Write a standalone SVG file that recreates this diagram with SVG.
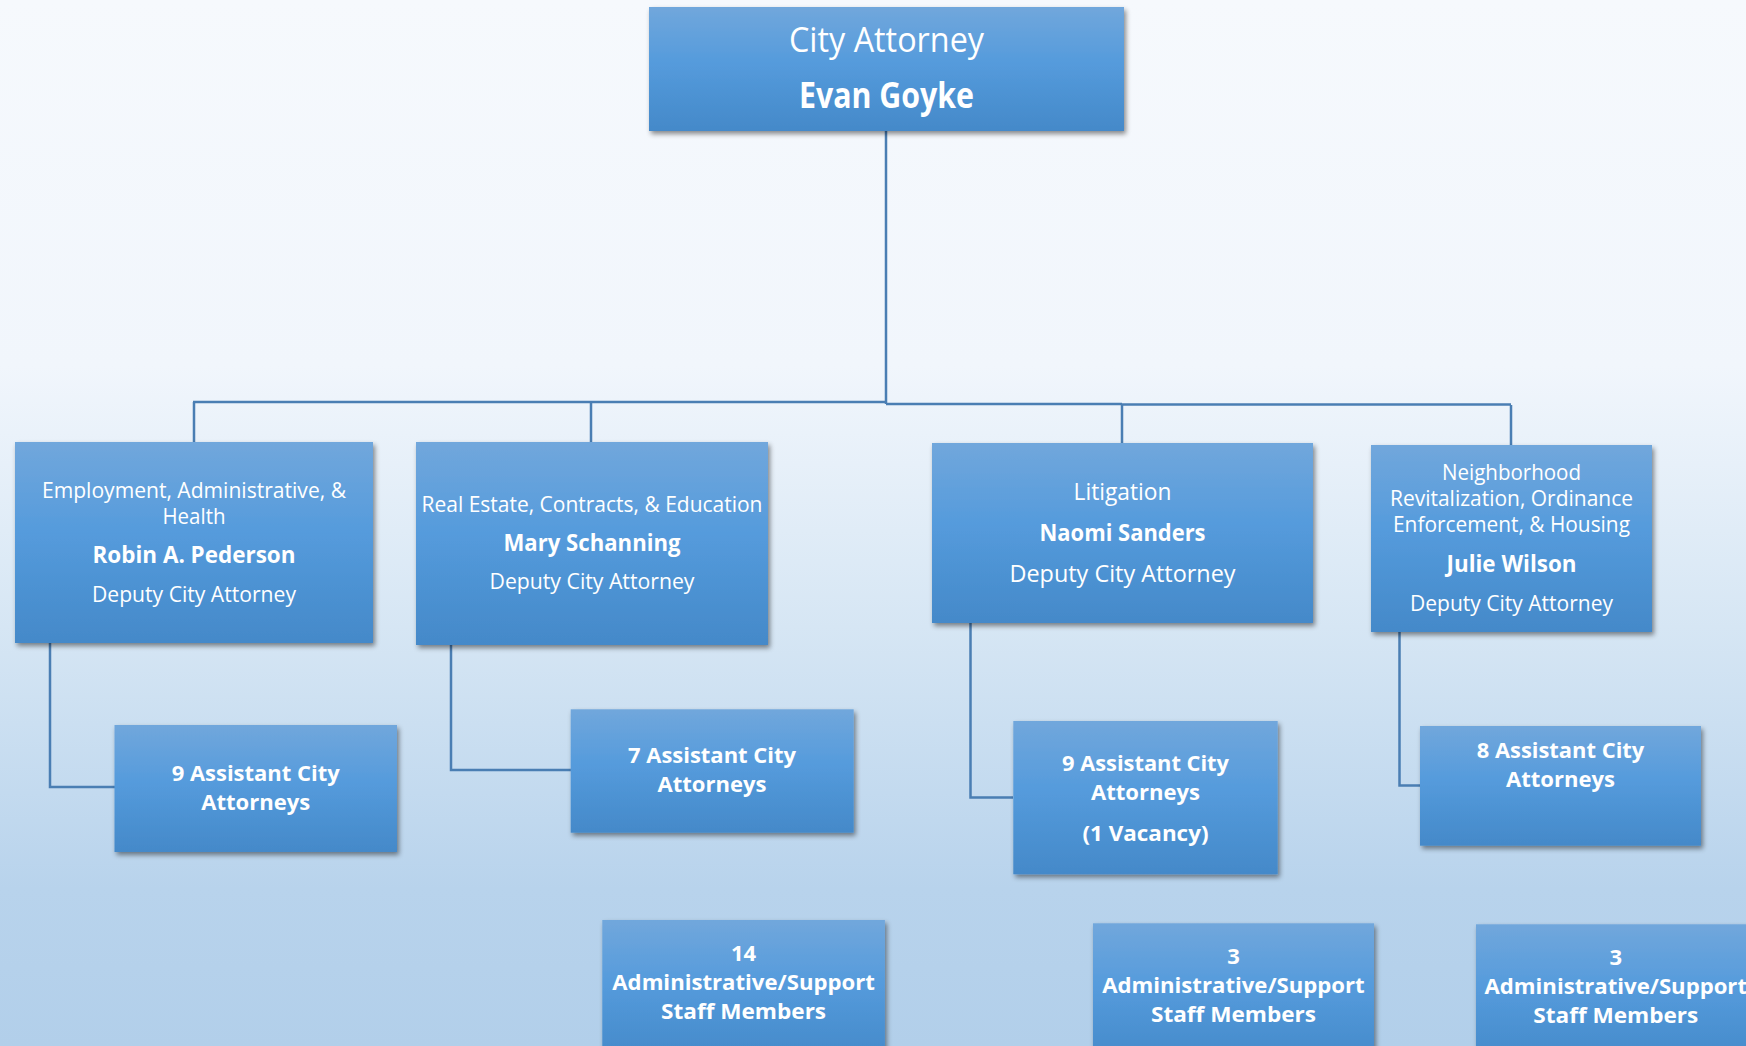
<svg xmlns="http://www.w3.org/2000/svg" width="1746" height="1046" viewBox="0 0 1746 1046">
<defs>
<linearGradient id="bg" x1="0" y1="0" x2="0" y2="1">
<stop offset="0" stop-color="#f6f9fd"/>
<stop offset="0.35" stop-color="#f1f6fc"/>
<stop offset="0.6" stop-color="#d6e6f4"/>
<stop offset="0.85" stop-color="#b8d3ec"/>
<stop offset="1" stop-color="#b2cfea"/>
</linearGradient>
<linearGradient id="box" x1="0" y1="0" x2="0" y2="1">
<stop offset="0" stop-color="#71a7dc"/>
<stop offset="0.45" stop-color="#559bdc"/>
<stop offset="1" stop-color="#4489c9"/>
</linearGradient>
<filter id="sh" x="-10%" y="-10%" width="125%" height="130%">
<feDropShadow dx="2" dy="3" stdDeviation="2.5" flood-color="#000" flood-opacity="0.45"/>
</filter>
</defs>
<style>
.b{fill:url(#box);filter:url(#sh)}
.t{font-family:"Open Sans","Noto Sans",sans-serif;fill:#fff;text-anchor:middle}
.r{font-weight:400;font-size:21px}
.n{font-weight:700;font-size:23px}
.s{font-weight:700;font-size:22px}
.c{fill:none;stroke:#4a7eb3;stroke-width:2.5}
</style>
<rect x="0" y="0" width="1746" height="1046" fill="url(#bg)"/>
<g id="connectors">
<path class="c" d="M886 131V404" stroke-width="3"/>
<path class="c" d="M193 402H886"/>
<path class="c" d="M886 404H1122" stroke-width="4"/>
<path class="c" d="M1122 404.5H1511" stroke-width="3"/>
<path class="c" d="M194 402V442M591 402V442M1122 404V443M1511 405V445"/>
<path class="c" d="M50 643V787H115"/>
<path class="c" d="M451 645V770H571"/>
<path class="c" d="M970.5 623V797.5H1013"/>
<path class="c" d="M1399.5 632V785.5H1420"/>
</g>
<g id="city-attorney">
<rect class="b" x="649" y="7" width="475" height="124"/>
<text class="t" x="886.5" y="51.7" font-size="34" textLength="195" lengthAdjust="spacingAndGlyphs">City Attorney</text>
<text class="t" x="886.5" y="108" font-size="35" font-weight="700" textLength="175" lengthAdjust="spacingAndGlyphs">Evan Goyke</text>
</g>
<g id="employment">
<rect class="b" x="15" y="442" width="358" height="201"/>
<text class="t r" x="194" y="498" textLength="304" lengthAdjust="spacingAndGlyphs">Employment, Administrative, &amp;</text>
<text class="t r" x="194" y="524" textLength="63" lengthAdjust="spacingAndGlyphs">Health</text>
<text class="t n" x="194" y="563" textLength="203" lengthAdjust="spacingAndGlyphs">Robin A. Pederson</text>
<text class="t r" x="194" y="602" textLength="204" lengthAdjust="spacingAndGlyphs">Deputy City Attorney</text>
</g>
<g id="real-estate">
<rect class="b" x="416" y="442" width="352" height="203"/>
<text class="t r" x="592" y="511.7" textLength="341" lengthAdjust="spacingAndGlyphs">Real Estate, Contracts, &amp; Education</text>
<text class="t n" x="592" y="550.7" textLength="177" lengthAdjust="spacingAndGlyphs">Mary Schanning</text>
<text class="t r" x="592" y="589" textLength="205" lengthAdjust="spacingAndGlyphs">Deputy City Attorney</text>
</g>
<g id="litigation">
<rect class="b" x="932" y="443" width="381" height="180"/>
<text class="t" x="1122.5" y="500" font-size="23" textLength="98" lengthAdjust="spacingAndGlyphs">Litigation</text>
<text class="t n" x="1122.5" y="540.7" textLength="166" lengthAdjust="spacingAndGlyphs">Naomi Sanders</text>
<text class="t" x="1122.5" y="581.7" font-size="23" textLength="226" lengthAdjust="spacingAndGlyphs">Deputy City Attorney</text>
</g>
<g id="neighborhood">
<rect class="b" x="1371" y="445" width="281" height="187"/>
<text class="t r" x="1511.5" y="480" textLength="139" lengthAdjust="spacingAndGlyphs">Neighborhood</text>
<text class="t r" x="1511.5" y="506" textLength="243" lengthAdjust="spacingAndGlyphs">Revitalization, Ordinance</text>
<text class="t r" x="1511.5" y="531.7" textLength="237" lengthAdjust="spacingAndGlyphs">Enforcement, &amp; Housing</text>
<text class="t n" x="1511.5" y="571.7" textLength="130" lengthAdjust="spacingAndGlyphs">Julie Wilson</text>
<text class="t r" x="1511.5" y="611" textLength="203" lengthAdjust="spacingAndGlyphs">Deputy City Attorney</text>
</g>
<g id="asst-employment">
<rect class="b" x="114.5" y="725" width="282.5" height="127"/>
<text class="t s" x="255.7" y="781" textLength="168" lengthAdjust="spacingAndGlyphs">9 Assistant City</text>
<text class="t s" x="255.7" y="810" textLength="109" lengthAdjust="spacingAndGlyphs">Attorneys</text>
</g>
<g id="asst-real-estate">
<rect class="b" x="570.7" y="709.3" width="283" height="123.4"/>
<text class="t s" x="712" y="763.3" textLength="168" lengthAdjust="spacingAndGlyphs">7 Assistant City</text>
<text class="t s" x="712" y="792.3" textLength="109" lengthAdjust="spacingAndGlyphs">Attorneys</text>
</g>
<g id="asst-litigation">
<rect class="b" x="1013.3" y="721" width="264.4" height="153.3"/>
<text class="t s" x="1145.5" y="770.7" textLength="167" lengthAdjust="spacingAndGlyphs">9 Assistant City</text>
<text class="t s" x="1145.5" y="800" textLength="109" lengthAdjust="spacingAndGlyphs">Attorneys</text>
<text class="t s" x="1145.5" y="840.7" textLength="126" lengthAdjust="spacingAndGlyphs">(1 Vacancy)</text>
</g>
<g id="asst-neighborhood">
<rect class="b" x="1420" y="726" width="281" height="119.7"/>
<text class="t s" x="1560.5" y="758.3" textLength="167.6" lengthAdjust="spacingAndGlyphs">8 Assistant City</text>
<text class="t s" x="1560.5" y="787.3" textLength="109" lengthAdjust="spacingAndGlyphs">Attorneys</text>
</g>
<g id="staff-real-estate">
<rect class="b" x="602.3" y="920" width="282.6" height="140"/>
<text class="t s" x="743.6" y="961">14</text>
<text class="t s" x="743.6" y="990" textLength="262.5" lengthAdjust="spacingAndGlyphs">Administrative/Support</text>
<text class="t s" x="743.6" y="1019.3" textLength="165" lengthAdjust="spacingAndGlyphs">Staff Members</text>
</g>
<g id="staff-litigation">
<rect class="b" x="1093" y="923.3" width="281" height="140"/>
<text class="t s" x="1233.5" y="964">3</text>
<text class="t s" x="1233.5" y="993" textLength="262.5" lengthAdjust="spacingAndGlyphs">Administrative/Support</text>
<text class="t s" x="1233.5" y="1022" textLength="165" lengthAdjust="spacingAndGlyphs">Staff Members</text>
</g>
<g id="staff-neighborhood">
<rect class="b" x="1476" y="924.3" width="282" height="140"/>
<text class="t s" x="1615.8" y="965">3</text>
<text class="t s" x="1615.8" y="994" textLength="262.5" lengthAdjust="spacingAndGlyphs">Administrative/Support</text>
<text class="t s" x="1615.8" y="1023" textLength="165" lengthAdjust="spacingAndGlyphs">Staff Members</text>
</g>
</svg>
